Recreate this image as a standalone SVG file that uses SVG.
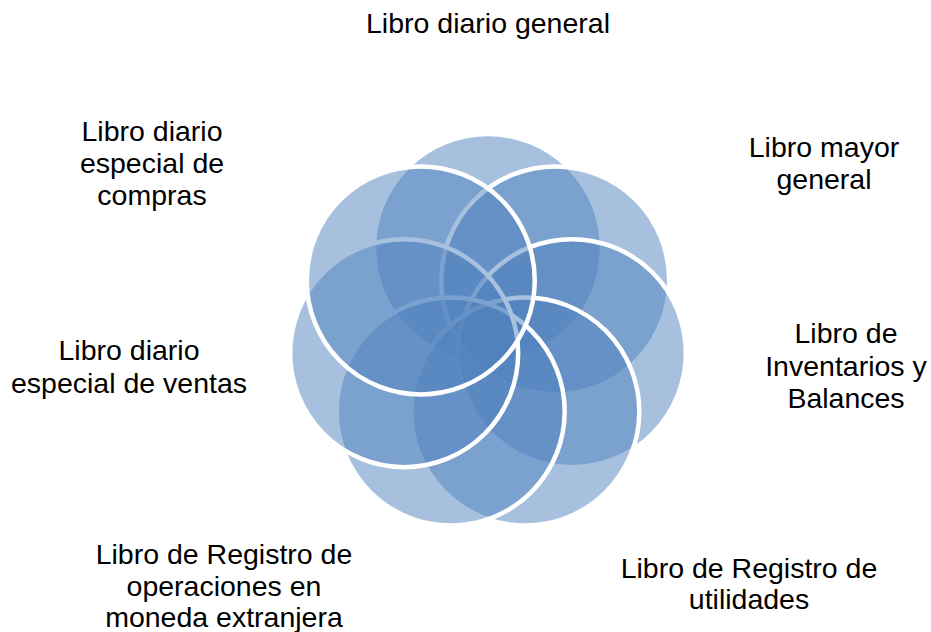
<svg xmlns="http://www.w3.org/2000/svg" width="931" height="632" viewBox="0 0 931 632">
  <style>
    .c { fill: #4F81BD; fill-opacity: 0.5; stroke: #FFFFFF; stroke-width: 4.5; }
    .t { font-family: "Liberation Sans", Arial, sans-serif; font-size: 28.5px; fill: #000000; text-anchor: middle; }
  </style>
  <rect width="931" height="632" fill="#FFFFFF"/>
  <g id="circles">
    <circle id="c0" class="c" cx="488" cy="248" r="114"/>
    <circle id="c1" class="c" cx="555.24" cy="280.38" r="114"/>
    <circle id="c2" class="c" cx="571.84" cy="353.14" r="114"/>
    <circle id="c3" class="c" cx="525.31" cy="411.48" r="114"/>
    <circle id="c4" class="c" cx="450.69" cy="411.48" r="114"/>
    <circle id="c5" class="c" cx="404.16" cy="353.14" r="114"/>
    <circle id="c6" class="c" cx="420.76" cy="280.38" r="114"/>
  </g>
  <g id="labels">
    <g id="n0"><text class="t" x="488" y="33">Libro diario general</text></g>
    <g id="n1"><text class="t" x="824" y="157">Libro mayor</text><text class="t" x="824" y="189">general</text></g>
    <g id="n2"><text class="t" x="846" y="343">Libro de</text><text class="t" x="846" y="375.5">Inventarios y</text><text class="t" x="846" y="408">Balances</text></g>
    <g id="n3"><text class="t" x="749" y="577.5">Libro de Registro de</text><text class="t" x="749" y="609">utilidades</text></g>
    <g id="n4"><text class="t" x="224" y="563.5">Libro de Registro de</text><text class="t" x="224" y="595.5">operaciones en</text><text class="t" x="224" y="627">moneda extranjera</text></g>
    <g id="n5"><text class="t" x="129" y="360">Libro diario</text><text class="t" x="129" y="392.5">especial de ventas</text></g>
    <g id="n6"><text class="t" x="152" y="140.5">Libro diario</text><text class="t" x="152" y="172.5">especial de</text><text class="t" x="152" y="205">compras</text></g>
  </g>
</svg>
